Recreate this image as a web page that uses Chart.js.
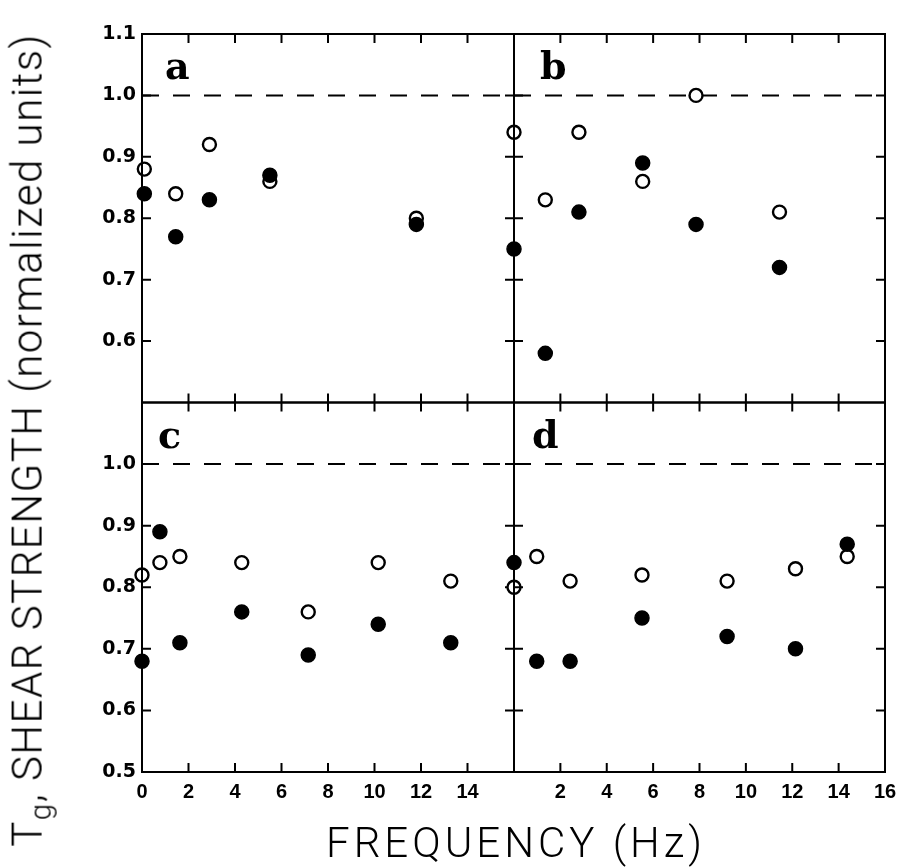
<!DOCTYPE html>
<html>
<head>
<meta charset="utf-8">
<script src="https://cdn.jsdelivr.net/npm/chart.js@4.4.1/dist/chart.umd.min.js"></script>
<style>
  html, body { margin: 0; padding: 0; background: #fff; }
  #wrap { position: relative; width: 899px; height: 867px; overflow: hidden; }
  #wrap canvas { position: absolute; left: 0; top: 0; }
  .title { position: absolute; white-space: nowrap; color: #000;
           font-family: "Roboto", "DejaVu Sans", sans-serif; font-weight: 300; }
  #ytitle { left: 30px; top: 440px; font-size: 42px; letter-spacing: 1.5px;
            transform: translate(-50%, -50%) rotate(-90deg); }
  #ytitle sub { font-size: 70%; vertical-align: -0.3em; }
  #xtitle { left: 516px; top: 842px; font-size: 42px; letter-spacing: 4px;
            transform: translate(-50%, -50%); }
</style>
</head>
<body>
<div id="wrap">
  <canvas id="panelA" width="899" height="867"></canvas>
  <canvas id="panelB" width="899" height="867"></canvas>
  <canvas id="panelC" width="899" height="867"></canvas>
  <canvas id="panelD" width="899" height="867"></canvas>
  <div class="title" id="ytitle">T<sub>g</sub>, SHEAR STRENGTH (normalized units)</div>
  <div class="title" id="xtitle">FREQUENCY (Hz)</div>
</div>
<script>
// axis ticks
const freqTicks = [0, 2, 4, 6, 8, 10, 12, 14, 16];
const strengthTicks = [0.5, 0.6, 0.7, 0.8, 0.9, 1.0, 1.1];
const refLevel = 1.0;

// panel a
const freqA   = [0.1, 1.45, 2.9, 5.5, 11.8];
const openA   = [0.88, 0.84, 0.92, 0.86, 0.80];
const filledA = [0.84, 0.77, 0.83, 0.87, 0.79];

// panel b
const freqB   = [0, 1.35, 2.8, 5.55, 7.85, 11.45];
const openB   = [0.94, 0.83, 0.94, 0.86, 1.00, 0.81];
const filledB = [0.75, 0.58, 0.81, 0.89, 0.79, 0.72];

// panel c
const freqC   = [0, 0.77, 1.63, 4.29, 7.15, 10.16, 13.28];
const openC   = [0.82, 0.84, 0.85, 0.84, 0.76, 0.84, 0.81];
const filledC = [0.68, 0.89, 0.71, 0.76, 0.69, 0.74, 0.71];

// panel d
const freqD   = [0, 0.98, 2.42, 5.52, 9.19, 12.14, 14.37];
const openD   = [0.80, 0.85, 0.81, 0.82, 0.81, 0.83, 0.85];
const filledD = [0.84, 0.68, 0.68, 0.75, 0.72, 0.70, 0.87];

const W = 899, H = 867;
const Y_AXIS_W = 60, X_AXIS_H = 40;

const panels = [
    { id: 'panelA', letter: 'a', dx: 23, freq: freqA, open: openA, filled: filledA,
      box: { left: 142, top: 34, right: 514, bottom: 402.5 }, xShow: null, yShow: [1, 6] },
    { id: 'panelB', letter: 'b', dx: 26, freq: freqB, open: openB, filled: filledB,
      box: { left: 514, top: 34, right: 885, bottom: 402.5 }, xShow: null, yShow: null },
    { id: 'panelC', letter: 'c', dx: 16, freq: freqC, open: openC, filled: filledC,
      box: { left: 142, top: 402.5, right: 514, bottom: 772 }, xShow: [0, 7], yShow: [0, 5] },
    { id: 'panelD', letter: 'd', dx: 18, freq: freqD, open: openD, filled: filledD,
      box: { left: 514, top: 402.5, right: 885, bottom: 772 }, xShow: [1, 8], yShow: null }
];

const TICK = 9;

// frame, inward tick marks and panel letter, drawn over the points
const panelFrame = {
    id: 'panelFrame',
    afterDatasetsDraw(chart, args, opts) {
        const ctx = chart.ctx;
        const a = chart.chartArea;
        const sx = chart.scales.x, sy = chart.scales.y;
        ctx.save();
        ctx.strokeStyle = '#000';
        ctx.lineWidth = 2;
        ctx.strokeRect(a.left, a.top, a.right - a.left, a.bottom - a.top);
        ctx.beginPath();
        sx.ticks.forEach(t => {
            if (t.value <= sx.min || t.value >= sx.max) return;
            const px = sx.getPixelForValue(t.value);
            ctx.moveTo(px, a.bottom); ctx.lineTo(px, a.bottom - TICK);
            ctx.moveTo(px, a.top); ctx.lineTo(px, a.top + TICK);
        });
        sy.ticks.forEach(t => {
            if (t.value <= sy.min + 1e-9 || t.value >= sy.max - 1e-9) return;
            const py = sy.getPixelForValue(t.value);
            ctx.moveTo(a.left, py); ctx.lineTo(a.left + TICK, py);
            ctx.moveTo(a.right, py); ctx.lineTo(a.right - TICK, py);
        });
        ctx.stroke();
        ctx.fillStyle = '#000';
        ctx.font = 'bold 38px "DejaVu Serif"';
        ctx.textBaseline = 'alphabetic';
        ctx.fillText(opts.letter, a.left + opts.dx, a.top + 45);
        ctx.restore();
    }
};

function points(xs, ys) {
    return xs.map((x, i) => ({ x: x, y: ys[i] }));
}

function inRange(range, i) {
    return range && i >= range[0] && i <= range[1];
}

function makePanel(p) {
    const ctx = document.getElementById(p.id).getContext('2d');
    const yw = p.yShow ? Y_AXIS_W : 0;
    const xh = p.xShow ? X_AXIS_H : 0;
    return new Chart(ctx, {
        type: 'scatter',
        data: {
            datasets: [
                { data: [{ x: freqTicks[0], y: refLevel }, { x: freqTicks[freqTicks.length - 1], y: refLevel }],
                  showLine: true, borderColor: '#000', borderWidth: 2, borderDash: [17, 14],
                  pointRadius: 0, order: 3, clip: false },
                { data: points(p.freq, p.open), pointRadius: 6.5, borderWidth: 2.4,
                  borderColor: '#000', backgroundColor: '#fff', order: 2, clip: false },
                { data: points(p.freq, p.filled), pointRadius: 7, borderWidth: 1.5,
                  borderColor: '#000', backgroundColor: '#000', order: 1, clip: false }
            ]
        },
        options: {
            responsive: false,
            animation: false,
            events: [],
            layout: {
                autoPadding: false,
                padding: {
                    left: p.box.left - yw,
                    top: p.box.top,
                    right: W - p.box.right,
                    bottom: H - p.box.bottom - xh
                }
            },
            plugins: {
                legend: { display: false },
                tooltip: { enabled: false },
                panelFrame: { letter: p.letter, dx: p.dx }
            },
            scales: {
                x: {
                    type: 'linear', position: 'bottom',
                    min: freqTicks[0], max: freqTicks[freqTicks.length - 1],
                    afterBuildTicks: s => { s.ticks = freqTicks.map(v => ({ value: v })); },
                    afterFit: s => { s.height = xh; s.paddingLeft = 0; s.paddingRight = 0; },
                    grid: { display: false, drawTicks: false },
                    border: { display: false },
                    ticks: {
                        display: !!p.xShow, autoSkip: false, maxRotation: 0, padding: 8,
                        color: '#000',
                        font: { family: '"Liberation Sans", Arial, sans-serif', size: 20, weight: 'bold' },
                        callback: (v, i) => inRange(p.xShow, i) ? String(v) : ''
                    }
                },
                y: {
                    type: 'linear', position: 'left',
                    min: strengthTicks[0], max: strengthTicks[strengthTicks.length - 1],
                    afterBuildTicks: s => { s.ticks = strengthTicks.map(v => ({ value: v })); },
                    afterFit: s => { s.width = yw; s.paddingTop = 0; s.paddingBottom = 0; },
                    grid: { display: false, drawTicks: false },
                    border: { display: false },
                    ticks: {
                        display: !!p.yShow, autoSkip: false, padding: 6,
                        color: '#000',
                        font: { family: '"DejaVu Sans", sans-serif', size: 19, weight: 'bold' },
                        callback: (v, i) => inRange(p.yShow, i) ? v.toFixed(1) : ''
                    }
                }
            }
        },
        plugins: [panelFrame]
    });
}

panels.forEach(makePanel);
</script>
</body>
</html>
